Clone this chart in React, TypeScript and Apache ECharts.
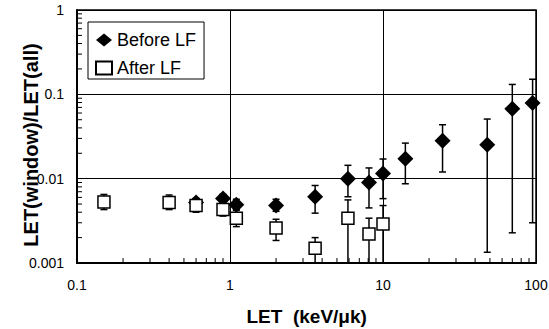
import React, { useEffect, useRef } from "react";
import * as echarts from "echarts";

// "Before LF" (filled diamonds)
const beforeX = [0.6, 0.9, 1.1, 2.0, 3.6, 5.9, 8.1, 10, 14, 24.5, 48, 70, 95];
const beforeY = [0.0052, 0.0058, 0.0049, 0.0048, 0.0061, 0.01, 0.009, 0.0115, 0.0172, 0.0282, 0.0252, 0.0673, 0.0787];
const beforeLo = [0.0046, 0.0051, 0.0043, 0.0041, 0.0039, 0.0061, 0.0045, 0.0058, 0.0087, 0.012, 0.00134, 0.00228, 0.003];
const beforeHi = [0.0058, 0.0065, 0.0057, 0.0057, 0.0083, 0.0144, 0.0134, 0.0171, 0.0264, 0.0436, 0.0509, 0.131, 0.151];

// "After LF" (open squares)
const afterX = [0.15, 0.4, 0.6, 0.9, 1.1, 2.0, 3.6, 5.9, 8.1, 10];
const afterY = [0.0053, 0.0052, 0.0048, 0.0043, 0.0034, 0.0026, 0.0015, 0.0034, 0.0022, 0.0029];
const afterLo = [0.0043, 0.0043, 0.004, 0.0036, 0.0027, 0.00185, 0.0005, 0.0005, 0.0005, 0.0005];
const afterHi = [0.0065, 0.0064, 0.0058, 0.005, 0.0042, 0.0033, 0.002, 0.0056, 0.0034, 0.0048];

const xTickLabels = ["0.1", "1", "10", "100"];
const yTickLabels = ["0.001", "0.01", "0.1", "1"];
const minorMultipliers = [2, 3, 4, 5, 6, 7, 8, 9];
const xDecades = [0.1, 1, 10];
const yDecades = [0.001, 0.01, 0.1];

const FONT = "Liberation Sans, Arial, Helvetica, sans-serif";

function pickLabel(v: number, labels: string[]): string {
  let best = labels[0];
  let bd = Infinity;
  for (const l of labels) {
    const d = Math.abs(Math.log10(Number(l)) - Math.log10(v));
    if (d < bd) {
      bd = d;
      best = l;
    }
  }
  return bd < 0.01 ? best : "";
}

export default function App() {
  const ref = useRef<HTMLDivElement>(null);
  useEffect(() => {
    const chart = echarts.init(ref.current!, null, { renderer: "svg" });
    const minorXData = xDecades.flatMap((d) => minorMultipliers.map((m) => [d * m]));
    const minorYData = yDecades.flatMap((d) => minorMultipliers.map((m) => [d * m]));

    const errRender = (params: any, api: any) => {
      const x = api.value(0);
      const lo = api.value(1);
      const hi = api.value(2);
      const cs = params.coordSys;
      const bottom = cs.y + cs.height;
      const pHi = api.coord([x, hi]);
      const pLo = api.coord([x, lo]);
      const clamped = pLo[1] > bottom;
      const yLo = Math.min(pLo[1], bottom);
      const style = { stroke: "#000", lineWidth: 1.5 };
      const children: any[] = [
        { type: "line", shape: { x1: pHi[0], y1: pHi[1], x2: pHi[0], y2: yLo }, style },
        { type: "line", shape: { x1: pHi[0] - 3.5, y1: pHi[1], x2: pHi[0] + 3.5, y2: pHi[1] }, style },
      ];
      if (!clamped) {
        children.push({ type: "line", shape: { x1: pLo[0] - 3.5, y1: pLo[1], x2: pLo[0] + 3.5, y2: pLo[1] }, style });
      }
      return { type: "group", children };
    };

    chart.setOption({
      animation: false,
      backgroundColor: "#fff",
      grid: {
        left: 77,
        right: 13,
        top: 10,
        bottom: 66,
        containLabel: false,
        outerBoundsMode: "none",
        show: true,
        borderColor: "#000",
        borderWidth: 1.5,
        backgroundColor: "transparent",
      },
      xAxis: {
        type: "log",
        logBase: 10,
        min: 0.1,
        max: 100,
        axisLine: { show: true, lineStyle: { color: "#000", width: 2 } },
        axisTick: { show: false },
        splitLine: { show: true, lineStyle: { color: "#000", width: 1 } },
        axisLabel: {
          margin: 15,
          color: "#000",
          fontSize: 14,
          fontFamily: FONT,
          formatter: (v: number) => pickLabel(v, xTickLabels),
        },
      },
      yAxis: {
        type: "log",
        logBase: 10,
        min: 0.001,
        max: 1,
        axisLine: { show: true, lineStyle: { color: "#000", width: 2 } },
        axisTick: { show: false },
        splitLine: { show: true, lineStyle: { color: "#000", width: 1 } },
        axisLabel: {
          margin: 13,
          color: "#000",
          fontSize: 14,
          fontFamily: FONT,
          formatter: (v: number) => pickLabel(v, yTickLabels),
        },
      },
      legend: {
        show: true,
        left: 88,
        top: 22,
        orient: "vertical",
        backgroundColor: "#fff",
        borderColor: "#000",
        borderWidth: 1,
        borderRadius: 0,
        padding: [8, 8, 1, 7],
        itemGap: 8,
        itemWidth: 16,
        itemHeight: 13,
        symbolKeepAspect: true,
        textStyle: { fontSize: 18, fontFamily: FONT, color: "#000", lineHeight: 20 },
        data: [
          { name: "Before LF", icon: "diamond" },
          { name: "After LF", icon: "rect" },
        ],
      },
      graphic: [
        {
          type: "text",
          x: 306.7,
          y: 316,
          style: {
            text: "LET  (keV/μk)",
            fontSize: 19,
            fontWeight: "bold",
            fontFamily: FONT,
            fill: "#000",
            align: "center",
            verticalAlign: "middle",
          },
        },
        {
          type: "text",
          x: 31,
          y: 145,
          rotation: Math.PI / 2,
          style: {
            text: "LET(window)/LET(all)",
            fontSize: 20,
            fontWeight: "bold",
            fontFamily: FONT,
            fill: "#000",
            align: "center",
            verticalAlign: "middle",
          },
        },
      ],
      series: [
        {
          type: "custom",
          name: "minorX",
          silent: true,
          data: minorXData,
          encode: { x: 0 },
          renderItem: (params: any, api: any) => {
            const cs = params.coordSys;
            const bottom = cs.y + cs.height;
            const px = api.coord([api.value(0), 0.01])[0];
            return {
              type: "line",
              shape: { x1: px, y1: bottom, x2: px, y2: bottom - 5 },
              style: { stroke: "#000", lineWidth: 1 },
            };
          },
        },
        {
          type: "custom",
          name: "minorY",
          silent: true,
          data: minorYData.map((d) => [1, d[0]]),
          encode: { x: 0, y: 1 },
          renderItem: (params: any, api: any) => {
            const cs = params.coordSys;
            const py = api.coord([1, api.value(1)])[1];
            return {
              type: "line",
              shape: { x1: cs.x, y1: py, x2: cs.x + 5, y2: py },
              style: { stroke: "#000", lineWidth: 1 },
            };
          },
        },
        {
          type: "custom",
          name: "errBefore",
          silent: true,
          data: beforeX.map((x, i) => [x, beforeLo[i], beforeHi[i]]),
          encode: { x: 0, y: [1, 2] },
          renderItem: errRender,
        },
        {
          type: "custom",
          name: "errAfter",
          silent: true,
          data: afterX.map((x, i) => [x, afterLo[i], afterHi[i]]),
          encode: { x: 0, y: [1, 2] },
          renderItem: errRender,
        },
        {
          type: "scatter",
          name: "Before LF",
          symbol: "diamond",
          symbolSize: 16,
          itemStyle: { color: "#000", opacity: 1 },
          data: beforeX.map((x, i) => [x, beforeY[i]]),
        },
        {
          type: "scatter",
          name: "After LF",
          symbol: "rect",
          symbolSize: 12,
          itemStyle: { color: "#fff", borderColor: "#000", borderWidth: 1.5, opacity: 1 },
          data: afterX.map((x, i) => [x, afterY[i]]),
        },
      ],
    });
    return () => chart.dispose();
  }, []);
  return <div ref={ref} style={{ width: 549, height: 329, position: "absolute", left: 0, top: 0 }} />;
}
